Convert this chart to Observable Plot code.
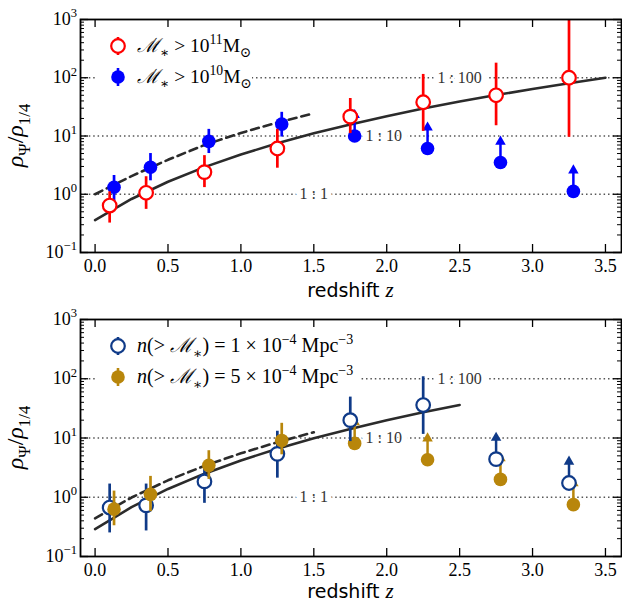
<!DOCTYPE html>
<html><head><meta charset="utf-8">
<script src="https://cdn.jsdelivr.net/npm/d3@7"></script>
<script src="https://cdn.jsdelivr.net/npm/@observablehq/plot@0.6"></script>
<style>
body{margin:0;background:#fff;}
#chart{width:622px;}
#chart svg{display:block;}
</style></head><body><div id="chart"></div>
<script>
// ---------- axis ticks ----------
const xTicks=[0,0.5,1,1.5,2,2.5,3,3.5];
const xTickLabels=["0.0","0.5","1.0","1.5","2.0","2.5","3.0","3.5"];
const yTicks=[0.1,1,10,100,1000];
const yTickExps=["\u22121","0","1","2","3"];
const ratioLines=[1,10,100];
const ratioLabels=["1 : 1","1 : 10","1 : 100"];
const ratioLabelZ=[1.5,1.98,2.5];

// ---------- top panel ----------
const zHi=[0.1,0.35,0.75,1.25,1.75,2.25,2.75,3.25];          // M* > 1e11
const vHi=[0.64,1.06,2.4,6.1,21.5,38,50,100];
const loHi=[0.32,0.55,1.3,2.8,11,12,15,9.5];
const upHi=[1.1,2.0,4.6,13,44,114,178,2000];
const zLo=[0.13,0.38,0.78,1.28];                             // M* > 1e10
const vLo=[1.32,2.9,8.1,16];
const loLo=[0.74,1.7,5.0,9.6];
const upLo=[2.1,5.0,13,25.5];
const zLoLim=[1.78,2.28,2.78,3.28];                          // lower limits
const vLoLim=[10,6.1,3.5,1.12];
const zTopSolid=[0,0.25,0.5,0.75,1,1.25,1.5,1.75,2,2.25,2.5,2.75,3,3.25,3.5];
const vTopSolid=[0.36,0.83,1.64,2.92,4.8,7.5,11.1,15.8,21.9,29.6,39,50.5,64,80.6,100];
const zTopDash=[0,0.25,0.5,0.75,1,1.25,1.5];
const vTopDash=[1.0,2.05,3.9,7.0,11.3,17,24.5];

// ---------- bottom panel ----------
const zN1=[0.1,0.35,0.75,1.25,1.75,2.25];                    // n = 1e-4
const vN1=[0.67,0.73,1.85,5.4,20,36];
const loN1=[0.25,0.27,0.79,2.1,8.7,11.5];
const upN1=[1.67,1.67,3.7,13,49,108];
const zN1Lim=[2.75,3.25];
const vN1Lim=[4.4,1.74];
const zN5=[0.13,0.38,0.78,1.28];                             // n = 5e-4
const vN5=[0.63,1.12,3.45,9.1];
const loN5=[0.33,0.57,2.0,5.2];
const upN5=[1.27,2.25,6.1,17.7];
const zN5Lim=[1.78,2.28,2.78,3.28];
const vN5Lim=[8.1,4.3,2.0,0.75];
const zBotSolid=[0,0.25,0.5,0.75,1,1.25,1.5,1.75,2,2.25,2.5];
const vBotSolid=[0.29,0.68,1.38,2.5,4.18,6.58,9.87,14.2,19.9,27.1,36.1];
const zBotDash=[0,0.25,0.5,0.75,1,1.25,1.5];
const vBotDash=[0.44,0.99,1.93,3.39,5.52,8.49,12.5];

const RED="#ff0000", BLUE="#0000ff", NAVY="#0f3a88", GOLD="#b8860b", CURVE="#2b2b2b";

const pts=(z,v,lo,up)=>z.map((d,i)=>({z:d,v:v[i],lo:lo?lo[i]:null,up:up?up[i]:null}));
const W=622, ML=80, MR=1;
const SERIF="Liberation Serif, DejaVu Serif, serif";

function rich(sel,parts,size){
  let shift=0;
  for(const [t,k] of parts){
    const ts=sel.append("tspan").text(t);
    const target=k==="sub"?0.28*size:k==="sup"?-0.42*size:0;
    if(target-shift!==0) ts.attr("dy",target-shift);
    shift=target;
    if(k==="sub"||k==="sup") ts.attr("font-size",size*0.7);
    if(k==="i") ts.attr("font-style","italic");
  }
}

function errSeries(data,color,open){
  return [
    Plot.ruleX(data,{x:"z",y1:"lo",y2:"up",stroke:color,strokeWidth:2.7,clip:true}),
    Plot.dot(data,{x:"z",y:"v",r:6.8,fill:open?"white":color,stroke:color,strokeWidth:open?2.2:0})
  ];
}
function limSeries(data,color,open){
  return [
    Plot.ruleX(data,{x:"z",y1:"v",y2:d=>d.v*2.1,stroke:color,strokeWidth:2.5}),
    Plot.dot(data,{x:"z",y:d=>d.v*2.29,symbol:"triangle",r:3.9,fill:color,stroke:"none"}),
    Plot.dot(data,{x:"z",y:"v",r:6.8,fill:open?"white":color,stroke:color,strokeWidth:open?2.2:0})
  ];
}

function panel(cfg){
  const {height,mt,mb,marks,legend,xLabelY}=cfg;
  const innerH=height-mt-mb, innerW=W-ML-MR;
  const minor=[];
  yTicks.slice(0,-1).forEach(d=>{for(let k=2;k<=9;k++) minor.push(d*k);});
  const ratioData=ratioLines.map((v,i)=>({v,label:ratioLabels[i],z:ratioLabelZ[i]}));
  const svg=Plot.plot({
    width:W,height,marginLeft:ML,marginRight:MR,marginTop:mt,marginBottom:mb,
    style:{fontSize:"18px",color:"black",background:"white",overflow:"visible"},
    x:{domain:[-0.1,3.61],axis:null},
    y:{type:"log",domain:[0.1,1000],axis:null},
    marks:[
      Plot.ruleY(ratioData,{y:"v",stroke:"#555",strokeWidth:1.5,strokeDasharray:"1.5,2.9"}),
      Plot.text(ratioData,{x:"z",y:"v",text:"label",fill:"#333",stroke:"white",strokeWidth:12,fontSize:16,fontFamily:SERIF}),
      ...marks,
      Plot.axisX({ticks:xTicks,tickSize:0,tickPadding:7,tickFormat:d=>xTickLabels[xTicks.indexOf(d)],fontSize:18,fontFamily:SERIF,label:null}),
      Plot.ruleX(xTicks,{insetTop:innerH-8,stroke:"black",strokeWidth:1.3}),
      Plot.ruleX(xTicks,{insetBottom:innerH-8,stroke:"black",strokeWidth:1.3}),
      Plot.ruleY(yTicks,{insetRight:innerW-8,stroke:"black",strokeWidth:1.3}),
      Plot.ruleY(yTicks,{insetLeft:innerW-8,stroke:"black",strokeWidth:1.3}),
      Plot.ruleY(minor,{insetRight:innerW-4,stroke:"black",strokeWidth:1}),
      Plot.ruleY(minor,{insetLeft:innerW-4,stroke:"black",strokeWidth:1}),
      Plot.frame({stroke:"black",strokeWidth:1.8})
    ]
  });
  const g=d3.select(svg);
  g.selectAll("text").style("font-family",SERIF);
  const ys=svg.scale("y");
  // y tick labels
  yTicks.forEach((v,i)=>{
    const t=g.append("text").attr("x",ML-3).attr("y",ys.apply(v)+6)
      .attr("text-anchor","end").style("font-family",SERIF).attr("font-size",18).attr("fill","black");
    rich(t,[["10","n"],[yTickExps[i],"sup"]],18);
  });
  // y label
  const cy=mt+innerH/2;
  const yl=g.append("text").attr("transform",`translate(23,${cy}) rotate(-90)`)
    .attr("text-anchor","middle").style("font-family",SERIF).attr("font-size",24).attr("fill","black");
  rich(yl,[["\u03c1","i"],["\u03a8","sub"],["/","n"],["\u03c1","i"],["1/4","sub"]],24);
  // x label
  const xl=g.append("text").attr("x",ML+innerW/2).attr("y",xLabelY).attr("text-anchor","middle").attr("fill","black");
  xl.append("tspan").style("font-family","DejaVu Sans, sans-serif").attr("font-size",19).text("redshift ");
  xl.append("tspan").style("font-family",SERIF).attr("font-style","italic").attr("font-size",21).text("z");
  // legend
  const lg=g.append("g");
  lg.append("rect").attr("x",97).attr("y",mt+9).attr("width",legend.w).attr("height",64).attr("fill","white");
  legend.items.forEach((it,i)=>{
    const yy=mt+27+i*31;
    lg.append("line").attr("x1",118).attr("x2",118).attr("y1",yy-9).attr("y2",yy+9).attr("stroke",it.color).attr("stroke-width",2.6);
    lg.append("circle").attr("cx",118).attr("cy",yy).attr("r",6.8)
      .attr("fill",it.open?"white":it.color).attr("stroke",it.color).attr("stroke-width",it.open?2.2:0);
    const t=lg.append("text").attr("x",137).attr("y",yy+6).attr("text-anchor","start")
      .style("font-family",SERIF).attr("font-size",it.fs||19).attr("fill","black");
    rich(t,it.parts,it.fs||19);
  });
  return svg;
}

const topPanel=panel({
  height:303,mt:19,mb:51,xLabelY:297,
  marks:[
    Plot.line(zTopSolid.map((z,i)=>({z,v:vTopSolid[i]})),{x:"z",y:"v",stroke:CURVE,strokeWidth:2.6}),
    Plot.line(zTopDash.map((z,i)=>({z,v:vTopDash[i]})),{x:"z",y:"v",stroke:CURVE,strokeWidth:2.6,strokeDasharray:"8,5"}),
    ...errSeries(pts(zLo,vLo,loLo,upLo),BLUE,false),
    ...limSeries(pts(zLoLim,vLoLim),BLUE,false),
    ...errSeries(pts(zHi,vHi,loHi,upHi),RED,true)
  ],
  legend:{w:155,items:[
    {color:RED,open:true,fs:19.5,parts:[["\u2133","i"],["\u2217","sub"],[" > 10","n"],["11","sup"],["M","n"],["\u2299","sub"]]},
    {color:BLUE,open:false,fs:19.5,parts:[["\u2133","i"],["\u2217","sub"],[" > 10","n"],["10","sup"],["M","n"],["\u2299","sub"]]}
  ]}
});
const bottomPanel=panel({
  height:303,mt:16,mb:50,xLabelY:295,
  marks:[
    Plot.line(zBotSolid.map((z,i)=>({z,v:vBotSolid[i]})),{x:"z",y:"v",stroke:CURVE,strokeWidth:2.6}),
    Plot.line(zBotDash.map((z,i)=>({z,v:vBotDash[i]})),{x:"z",y:"v",stroke:CURVE,strokeWidth:2.6,strokeDasharray:"8,5"}),
    ...limSeries(pts(zN5Lim,vN5Lim),GOLD,false),
    ...limSeries(pts(zN1Lim,vN1Lim),NAVY,true),
    ...errSeries(pts(zN1,vN1,loN1,upN1),NAVY,true),
    ...errSeries(pts(zN5,vN5,loN5,upN5),GOLD,false)
  ],
  legend:{w:262,items:[
    {color:NAVY,open:true,fs:20,parts:[["n","i"],["(> ","n"],["\u2133","i"],["\u2217","sub"],[") = 1 \u00d7 10","n"],["\u22124","sup"],[" Mpc","n"],["\u22123","sup"]]},
    {color:GOLD,open:false,fs:20,parts:[["n","i"],["(> ","n"],["\u2133","i"],["\u2217","sub"],[") = 5 \u00d7 10","n"],["\u22124","sup"],[" Mpc","n"],["\u22123","sup"]]}
  ]}
});
document.getElementById("chart").append(topPanel,bottomPanel);
</script></body></html>
